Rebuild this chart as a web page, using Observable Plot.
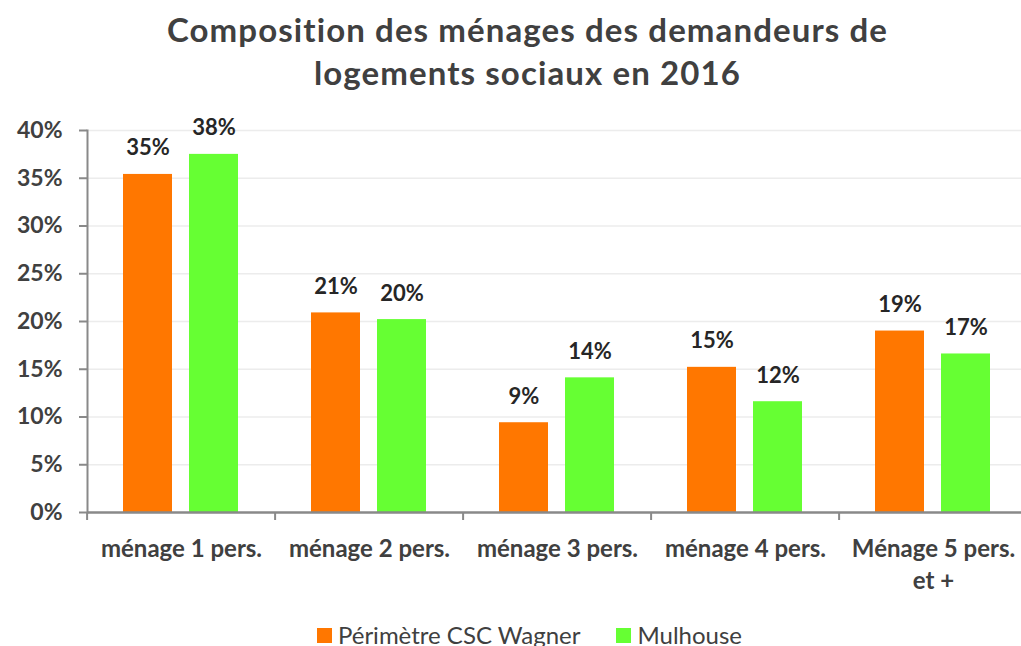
<!DOCTYPE html>
<html><head><meta charset="utf-8">
<script src="https://cdn.jsdelivr.net/npm/d3@7"></script>
<script src="https://cdn.jsdelivr.net/npm/@observablehq/plot@0.6"></script>
<style>
body{margin:0;background:#fff;overflow:hidden;width:1021px;height:646px;font-family:Lato,sans-serif}
#title{height:100px;text-align:center;font-weight:bold;font-size:33px;letter-spacing:1.1px;color:#404040;line-height:43px;padding-top:8px;box-sizing:border-box;padding-left:34px}
#chart svg{display:block;overflow:hidden}
#legend{display:flex;justify-content:center;align-items:center;padding-top:24px;padding-left:38px;font-size:24px;color:#404040;line-height:22px}
.item{display:flex;align-items:center;margin:0 18px}
.sw{width:15px;height:15px;margin-right:6px}
</style></head>
<body>
<div id="title">Composition des ménages des demandeurs de<br>logements sociaux en 2016</div>
<div id="chart"></div>
<div id="legend"></div>
<script>
const categories = ["ménage 1 pers.", "ménage 2 pers.", "ménage 3 pers.", "ménage 4 pers.", "Ménage 5 pers.\net +"];
const series = ["Périmètre CSC Wagner", "Mulhouse"];
const wagner = [0.354, 0.209, 0.094, 0.152, 0.190];
const mulhouse = [0.375, 0.202, 0.141, 0.116, 0.166];
const colors = ["#FF7700", "#66FF33"];
const yTicks = [0, 0.05, 0.10, 0.15, 0.20, 0.25, 0.30, 0.35, 0.40];

const data = [];
categories.forEach((c, i) => {
  data.push({cat: c, series: series[0], value: wagner[i]});
  data.push({cat: c, series: series[1], value: mulhouse[i]});
});

const axisColor = "#898989";
const plot = Plot.plot({
  width: 1021, height: 500,
  marginTop: 30, marginBottom: 88, marginLeft: 85, marginRight: -8,
  style: {fontFamily: "Lato, sans-serif", fontSize: "22px", fontWeight: "bold", color: "#404040", background: "#fff"},
  fx: {domain: categories, padding: 0, label: null, axis: null},
  x: {domain: series, paddingInner: 0.254, paddingOuter: 0.536, axis: null},
  y: {domain: [0, 0.4], label: null},
  color: {domain: series, range: colors},
  marks: [
    Plot.gridY(yTicks.slice(1), {stroke: "#ececec", strokeOpacity: 1, strokeWidth: 1.5}),
    Plot.barY(data, {fx: "cat", x: "series", y: "value", fill: "series"}),
    Plot.text(data, {fx: "cat", x: "series", y: "value", text: d => Math.round(d.value * 100) + "%",
      lineAnchor: "bottom", dy: -19, fill: "#262626", fontSize: 22, fontWeight: "bold"}),
    Plot.axisY(yTicks, {tickFormat: d => Math.round(d * 100) + "%", tickSize: 8, tickPadding: 17,
      stroke: axisColor, strokeWidth: 2, strokeOpacity: 1, fill: "#404040", label: null, fontSize: 23}),
    Plot.frame({anchor: "left", facetAnchor: "left", stroke: axisColor, strokeWidth: 2, strokeOpacity: 1}),
    Plot.ruleY([0], {stroke: axisColor, strokeWidth: 2.5}),
    Plot.axisFx({anchor: "bottom", tickSize: 0, tickPadding: 21, label: null, lineHeight: 1.35, fill: "#404040", fontSize: 24}),
    Plot.axisFx({anchor: "bottom", tickSize: 8, tickFormat: () => "", dx: -94.4, stroke: axisColor, strokeWidth: 2, strokeOpacity: 1, label: null})
  ]
});
document.getElementById("chart").appendChild(plot);

const legend = document.getElementById("legend");
series.forEach((s, i) => {
  const it = document.createElement("div"); it.className = "item";
  const sw = document.createElement("div"); sw.className = "sw"; sw.style.background = colors[i];
  const t = document.createElement("span"); t.textContent = s;
  it.appendChild(sw); it.appendChild(t); legend.appendChild(it);
});
</script>
</body></html>
